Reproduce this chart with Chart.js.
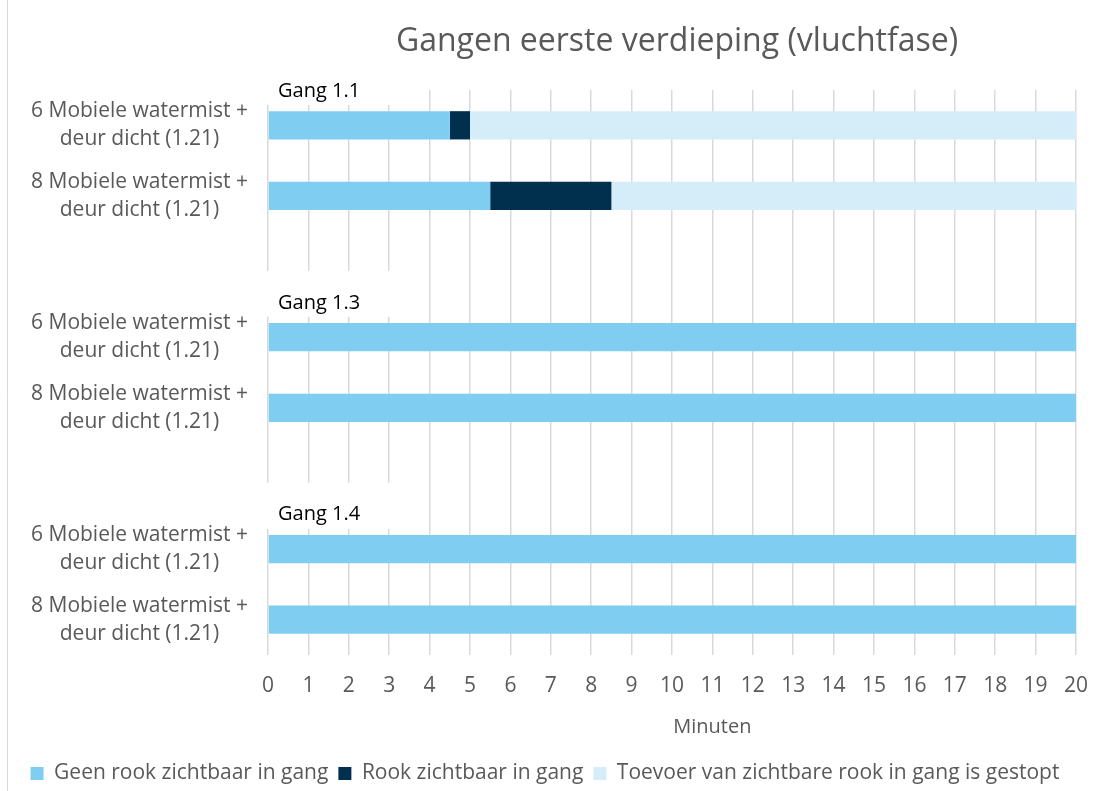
<!DOCTYPE html>
<html>
<head>
<meta charset="utf-8">
<script src="https://cdn.jsdelivr.net/npm/chart.js@4.4.1/dist/chart.umd.min.js"></script>
<style>
  html, body { margin: 0; padding: 0; background: #fff; }
  #wrap { width: 1100px; height: 791px; }
</style>
</head>
<body>
<div id="wrap"><canvas id="myChart"></canvas></div>
<script>
// rows of the chart (empty rows separate the corridors)
const categories = [
  ["6 Mobiele watermist +", "deur dicht (1.21)"],
  ["8 Mobiele watermist +", "deur dicht (1.21)"],
  "",
  ["6 Mobiele watermist +", "deur dicht (1.21)"],
  ["8 Mobiele watermist +", "deur dicht (1.21)"],
  "",
  ["6 Mobiele watermist +", "deur dicht (1.21)"],
  ["8 Mobiele watermist +", "deur dicht (1.21)"],
];
// group labels, placed at the top of the row they belong to
const groupLabels = ["Gang 1.1", "Gang 1.3", "Gang 1.4"];
const groupRows = [0, 3, 6];

// minutes per phase
const geenRook = [4.5, 5.5, null, 20, 20, null, 20, 20];
const rook = [0.5, 3, null, 0, 0, null, 0, 0];
const gestopt = [15, 11.5, null, 0, 0, null, 0, 0];

const xTicks = [0, 20, 1]; // min, max, step

const FONT = "'Open Sans', sans-serif";
const GREY = "#595959";

const groupLabelPlugin = {
  id: "groupLabels",
  beforeDraw(chart) {
    const ctx = chart.ctx;
    ctx.save();
    ctx.strokeStyle = "#d9d9d9";
    ctx.lineWidth = 1;
    ctx.beginPath();
    ctx.moveTo(7.5, 0);
    ctx.lineTo(7.5, chart.height);
    ctx.stroke();
    ctx.restore();
  },
  beforeDatasetsDraw(chart) {
    // white label boxes hide the gridlines behind the group titles
    const ctx = chart.ctx;
    const y = chart.scales.y;
    const x = chart.scales.x;
    const band = y.getPixelForValue(1) - y.getPixelForValue(0);
    ctx.save();
    ctx.fillStyle = "#fff";
    groupRows.forEach((r) => {
      const cy = y.getPixelForValue(r) - band / 2;
      ctx.fillRect(x.left - 2, cy - 31, 124, 46);
    });
    ctx.restore();
  },
  afterDraw(chart) {
    const ctx = chart.ctx;
    const y = chart.scales.y;
    const x = chart.scales.x;
    const area = chart.chartArea;
    const band = y.getPixelForValue(1) - y.getPixelForValue(0);
    ctx.save();
    ctx.textBaseline = "middle";
    // title centred over the plot area
    ctx.font = "32px " + FONT;
    ctx.fillStyle = GREY;
    ctx.textAlign = "center";
    ctx.fillText("Gangen eerste verdieping (vluchtfase)", (area.left + area.right) / 2 + 5, 42);
    // axis title
    ctx.font = "20px " + FONT;
    ctx.fillText("Minuten", x.getPixelForValue(11), 727);
    ctx.textAlign = "left";
    ctx.fillStyle = "#000";
    groupLabels.forEach((txt, i) => {
      const cy = y.getPixelForValue(groupRows[i]) - band / 2;
      ctx.fillText(txt, x.left + 10, cy + 1);
    });
    ctx.restore();
  }
};

new Chart(document.getElementById("myChart").getContext("2d"), {
  type: "bar",
  data: {
    labels: categories,
    datasets: [
      { label: "Geen rook zichtbaar in gang", data: geenRook, backgroundColor: "#7fcef2" },
      { label: "Rook zichtbaar in gang", data: rook, backgroundColor: "#00304e" },
      { label: "Toevoer van zichtbare rook in gang is gestopt", data: gestopt, backgroundColor: "#d5ecf9" },
    ],
  },
  options: {
    indexAxis: "y",
    responsive: true,
    maintainAspectRatio: false,
    animation: false,
    barPercentage: 0.4,
    categoryPercentage: 1,
    layout: { padding: { top: 90, right: 24, left: 14, bottom: -3 } },
    scales: {
      x: {
        stacked: true,
        min: xTicks[0],
        max: xTicks[1],
        afterFit(s) { s.height = 98; s.paddingRight = 0; },
        ticks: { stepSize: xTicks[2], color: GREY, font: { family: FONT, size: 21 }, padding: 18 },
        grid: { color: "#d9d9d9", lineWidth: 1.5, drawTicks: false },
        border: { display: false },
      },
      y: {
        stacked: true,
        afterFit(s) { s.width = 254; },
        ticks: { color: GREY, font: { family: FONT, size: 21, lineHeight: 1.33 }, crossAlign: "center", padding: 12 },
        grid: { display: false },
        border: { display: false },
      },
    },
    plugins: {
      legend: {
        position: "bottom",
        labels: { color: GREY, font: { family: FONT, size: 21 }, boxWidth: 13, boxHeight: 13, padding: 10 },
      },
      tooltip: { enabled: false },
    },
  },
  plugins: [groupLabelPlugin],
});
</script>
</body>
</html>
